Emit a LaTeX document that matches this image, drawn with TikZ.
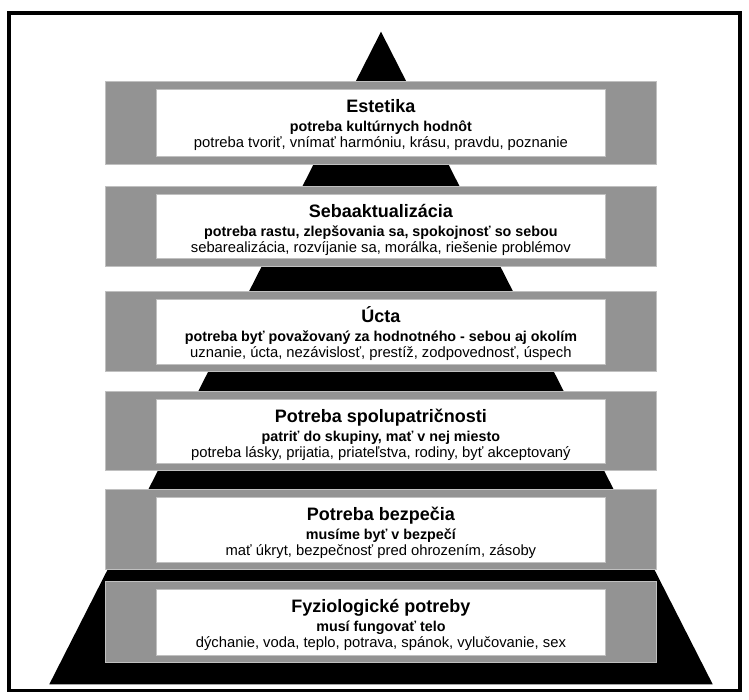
\documentclass[tikz,border=0pt]{standalone}
\usepackage{fontspec}
\setmainfont{Liberation Sans}
\definecolor{bandgray}{RGB}{147,147,147}
\definecolor{bandedge}{RGB}{192,192,192}
\tikzset{
  band/.style={draw=bandedge, line width=0.8pt, fill=bandgray},
  innerbox/.style={draw=bandedge, line width=0.6pt, fill=white, inner sep=0pt, anchor=north},
  ttl/.style={anchor=base, inner sep=0pt, font=\fontsize{18}{21}\selectfont\bfseries},
  sub/.style={anchor=base, inner sep=0pt, font=\fontsize{14.3}{16}\selectfont\bfseries},
  det/.style={anchor=base, inner sep=0pt, font=\fontsize{14.8}{17}\selectfont}
}
% #1 name, #2 band top, #3 band bottom, #4 title, #5 subtitle, #6 details
\newcommand{\pyrlevel}[6]{%
  \path[band] (105.5,#2) rectangle (656.5,#3);
  \node[innerbox, minimum width=448.3pt, minimum height={(#3-#2-15.1)*1pt}] (#1) at (380.9,#2+7.6) {};
  \node[ttl] (#1-title) at (380.9,#2+7.6+23.5) {#4};
  \node[sub] (#1-sub) at (380.9,#2+7.6+42.5) {#5};
  \node[det] (#1-det) at (380.9,#2+7.6+58.5) {#6};
}
\begin{document}
\begin{tikzpicture}[x=1pt,y=-1pt]
\useasboundingbox (0,0) rectangle (749,700);
\fill[white] (0,0) rectangle (749,700);
\draw[line width=3.6pt] (9.2,13.3) rectangle (739.8,690.5);
\fill[black] (381,31.7) -- (712.7,684.3) -- (49.3,684.3) -- cycle;
\pyrlevel{l1}{81.7}{164}{Estetika}{potreba kultúrnych hodnôt}{potreba tvoriť, vnímať harmóniu, krásu, pravdu, poznanie}
\pyrlevel{l2}{186.7}{266}{Sebaaktualizácia}{potreba rastu, zlepšovania sa, spokojnosť so sebou}{sebarealizácia, rozvíjanie sa, morálka, riešenie problémov}
\pyrlevel{l3}{291.7}{371.7}{Úcta}{potreba byť považovaný za hodnotného - sebou aj okolím}{uznanie, úcta, nezávislosť, prestíž, zodpovednosť, úspech}
\pyrlevel{l4}{391.7}{470.7}{Potreba spolupatričnosti}{patriť do skupiny, mať v nej miesto}{potreba lásky, prijatia, priateľstva, rodiny, byť akceptovaný}
\pyrlevel{l5}{489.3}{569}{Potreba bezpečia}{musíme byť v bezpečí}{mať úkryt, bezpečnosť pred ohrozením, zásoby}
\pyrlevel{l6}{581.7}{662}{Fyziologické potreby}{musí fungovať telo}{dýchanie, voda, teplo, potrava, spánok, vylučovanie, sex}
\end{tikzpicture}
\end{document}
